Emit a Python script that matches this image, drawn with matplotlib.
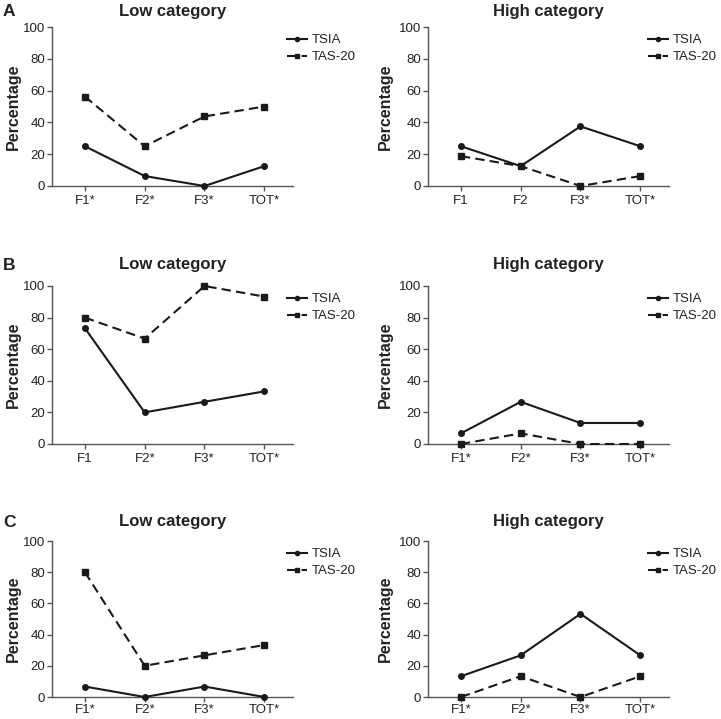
import matplotlib
matplotlib.use("Agg")
import matplotlib.pyplot as plt

plt.rcParams['font.family'] = ['Liberation Sans', 'DejaVu Sans']

categories_A_low = ["F1*", "F2*", "F3*", "TOT*"]
categories_A_high = ["F1", "F2", "F3*", "TOT*"]
categories_B_low = ["F1", "F2*", "F3*", "TOT*"]
categories_B_high = ["F1*", "F2*", "F3*", "TOT*"]
categories_C_low = ["F1*", "F2*", "F3*", "TOT*"]
categories_C_high = ["F1*", "F2*", "F3*", "TOT*"]

tsia_A_low = [25.0, 6.25, 0.0, 12.5]
tas_A_low = [56.25, 25.0, 43.75, 50.0]
tsia_A_high = [25.0, 12.5, 37.5, 25.0]
tas_A_high = [18.75, 12.5, 0.0, 6.25]

tsia_B_low = [73.3, 20.0, 26.7, 33.3]
tas_B_low = [80.0, 66.7, 100.0, 93.3]
tsia_B_high = [6.7, 26.7, 13.3, 13.3]
tas_B_high = [0.0, 6.7, 0.0, 0.0]

tsia_C_low = [6.7, 0.0, 6.7, 0.0]
tas_C_low = [80.0, 20.0, 26.7, 33.3]
tsia_C_high = [13.3, 26.7, 53.3, 26.7]
tas_C_high = [0.0, 13.3, 0.0, 13.3]

panel_letters = ["A", "B", "C"]
titles = ["Low category", "High category"]

rows = [
    [(categories_A_low, tsia_A_low, tas_A_low), (categories_A_high, tsia_A_high, tas_A_high)],
    [(categories_B_low, tsia_B_low, tas_B_low), (categories_B_high, tsia_B_high, tas_B_high)],
    [(categories_C_low, tsia_C_low, tas_C_low), (categories_C_high, tsia_C_high, tas_C_high)],
]

W, H = 721, 719
fig = plt.figure(figsize=(W / 100, H / 100), dpi=100)

col_x = [52, 428]
ax_w = 241
row_top = [27, 286, 541]
row_bot = [186, 444, 697]
title_pads = [8, 12.5, 11]
letter_y = [4, 258, 515]
legend_x = [0.975, 0.913]
ylabel_pad = [1.5, 4]
xtick_pad = [2.8, 2.8, 1.8]

line_c = "#1a1a1a"
spine_c = "#555555"
text_c = "#222222"

for r, row in enumerate(rows):
    for c, (cats, tsia, tas) in enumerate(row):
        x0 = col_x[c] / W
        y0 = 1 - row_bot[r] / H
        hh = row_bot[r] - row_top[r]
        ax = fig.add_axes([x0, y0, ax_w / W, hh / H])
        xs = list(range(len(cats)))
        ax.plot(xs, tsia, color=line_c, lw=1.5, marker='o', ms=4.0,
                label="TSIA", clip_on=False, zorder=3)
        ax.plot(xs, tas, color=line_c, lw=1.5, ls=(0, (4.5, 2.5)), marker='s', ms=3.8,
                label="TAS-20", clip_on=False, zorder=3)
        ax.set_xlim(-0.55, 3.48)
        ax.set_ylim(0, 100)
        ax.set_yticks([0, 20, 40, 60, 80, 100])
        ax.set_xticks(xs)
        ax.set_xticklabels(cats)
        for s in ['top', 'right']:
            ax.spines[s].set_visible(False)
        for s in ['left', 'bottom']:
            ax.spines[s].set_color(spine_c)
            ax.spines[s].set_linewidth(1.0)
        ax.tick_params(axis='both', direction='out', length=3.5, width=1.0,
                       color=spine_c, labelsize=9.5, labelcolor=text_c)
        ax.tick_params(axis='x', pad=xtick_pad[r])
        ax.tick_params(axis='y', pad=1.5)
        ax.set_ylabel("Percentage", fontsize=11.5, fontweight='bold', color=text_c,
                      labelpad=ylabel_pad[c])
        ax.set_title(titles[c], fontsize=12, fontweight='bold', color=text_c, pad=title_pads[r])
        top_y = 1 - (7.0 / hh)
        ax.legend(loc='upper left', bbox_to_anchor=(legend_x[c], top_y), frameon=False,
                  fontsize=9.5, handlelength=1.5, handletextpad=0.4, borderpad=0,
                  labelspacing=0.38, borderaxespad=0, labelcolor=text_c, markerscale=0.75)
    fig.text(3 / W, 1 - letter_y[r] / H, panel_letters[r], fontsize=12.5,
             fontweight='bold', color=text_c, ha='left', va='top')

fig.savefig("out.png", dpi=100)
